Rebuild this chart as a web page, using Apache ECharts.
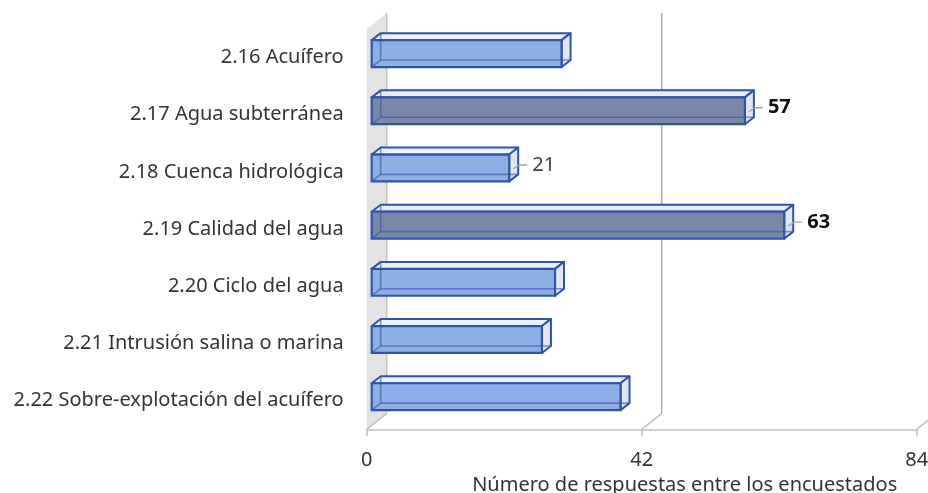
<!DOCTYPE html>
<html>
<head>
<meta charset="utf-8">
<script src="https://cdn.jsdelivr.net/npm/echarts@6/dist/echarts.min.js"></script>
<style>
  html, body { margin: 0; padding: 0; background: #fff; }
  #main { width: 928px; height: 493px; }
</style>
</head>
<body>
<div id="main"></div>
<script>
  // datos del gráfico
  const categories = [
    '2.16 Acuífero',
    '2.17 Agua subterránea',
    '2.18 Cuenca hidrológica',
    '2.19 Calidad del agua',
    '2.20 Ciclo del agua',
    '2.21 Intrusión salina o marina',
    '2.22 Sobre-explotación del acuífero'
  ];
  const values = [29, 57, 21, 63, 28, 26, 38];
  const highlighted = [0, 1, 0, 1, 0, 0, 0];   // barras oscuras
  const labelMode = [0, 2, 1, 2, 0, 0, 0];     // 0 sin etiqueta, 1 normal, 2 negrita
  const ticks = [0, 42, 84];
  const axisTitle = 'Número de respuestas entre los encuestados';

  const FONT = 'Noto Sans';
  const DEPTH = [20, -16];   // profundidad de las paredes
  const BAR_OFF = [5, -4];   // posición de la cara frontal de la barra
  const BAR_D = [9, -7];     // profundidad de la barra
  const EDGE = '#2F55A5';

  const barData = values.map((v, i) => [v, i, highlighted[i], labelMode[i]]);
  const wallData = ticks.map(t => [t]);

  function renderWalls(params, api) {
    const cs = params.coordSys;
    const t = api.value(0);
    const x = api.coord([t, 0])[0];
    const top = cs.y, bot = cs.y + cs.height;
    const children = [];
    if (t === 0) {
      children.push({
        type: 'polygon',
        shape: { points: [[x, top], [x + DEPTH[0], top + DEPTH[1]], [x + DEPTH[0], bot + DEPTH[1]], [x, bot]] },
        style: { fill: '#E3E3E3' }
      });
    }
    children.push({
      type: 'line',
      shape: { x1: x + DEPTH[0], y1: top + DEPTH[1], x2: x + DEPTH[0], y2: bot + DEPTH[1] },
      style: { stroke: t === 0 ? '#C4C4C4' : '#ABABAB', lineWidth: 1.5 }
    });
    children.push({
      type: 'line',
      shape: { x1: x, y1: bot, x2: x + DEPTH[0], y2: bot + DEPTH[1] },
      style: { stroke: '#BFBFBF', lineWidth: 1.5 }
    });
    return { type: 'group', children: children };
  }

  function renderBar(params, api) {
    const v = api.value(0), c = api.value(1);
    const dark = api.value(2) === 1;
    const mode = api.value(3);
    const p0 = api.coord([0, c]);
    const p1 = api.coord([v, c]);
    const band = api.size([0, 1])[1];
    const h = band * 0.47;
    const x0 = p0[0] + BAR_OFF[0], x1 = p1[0] + BAR_OFF[0];
    const cy = p0[1] + BAR_OFF[1];
    const top = cy - h / 2, bot = cy + h / 2;
    const dx = BAR_D[0], dy = BAR_D[1];
    const frontFill = dark ? '#7A88A7' : '#8EAEE6';
    const children = [
      {
        type: 'polygon',
        shape: { points: [[x0, top], [x1, top], [x1 + dx, top + dy], [x0 + dx, top + dy]] },
        style: { fill: dark ? '#E9ECF2' : '#ECF1F9', stroke: EDGE, lineWidth: 2, lineJoin: 'round' }
      },
      {
        type: 'polygon',
        shape: { points: [[x1, top], [x1 + dx, top + dy], [x1 + dx, bot + dy], [x1, bot]] },
        style: { fill: '#E2E6EE', stroke: EDGE, lineWidth: 2, lineJoin: 'round' }
      },
      {
        type: 'rect',
        shape: { x: x0, y: top, width: x1 - x0, height: h },
        style: { fill: frontFill, stroke: EDGE, lineWidth: 2.2 }
      },
      // aristas traseras vistas a través de la cara frontal
      {
        type: 'polyline',
        shape: { points: [[x0, bot], [x0 + dx, bot + dy], [x1 + dx, bot + dy]] },
        style: { stroke: 'rgba(47,85,165,0.6)', lineWidth: 1.6, fill: null }
      },
      {
        type: 'line',
        shape: { x1: x0 + dx, y1: top + dy, x2: x0 + dx, y2: bot + dy },
        style: { stroke: 'rgba(47,85,165,0.6)', lineWidth: 1.6 }
      }
    ];
    if (mode > 0) {
      const ly = cy - 3;
      children.push({
        type: 'polyline',
        shape: { points: [[x1 + 4, cy + 1], [x1 + 10, ly], [x1 + 18, ly]] },
        style: { stroke: '#A6A6A6', lineWidth: 1.4, fill: null }
      });
      children.push({
        type: 'text',
        style: {
          x: x1 + 23, y: ly,
          text: String(v),
          fill: mode === 2 ? '#111111' : '#404040',
          font: (mode === 2 ? 'bold ' : '') + '20px "' + FONT + '"',
          verticalAlign: 'middle', align: 'left'
        }
      });
    }
    return { type: 'group', children: children };
  }

  const chart = echarts.init(document.getElementById('main'));
  chart.setOption({
    animation: false,
    backgroundColor: '#fff',
    grid: { left: 366.7, right: 11.3, top: 29, bottom: 63.7, containLabel: false, outerBoundsMode: 'none' },
    xAxis: {
      type: 'value',
      min: 0, max: 84, interval: 42,
      name: axisTitle,
      nameLocation: 'middle',
      nameGap: 39,
      nameTextStyle: { fontFamily: FONT, fontSize: 20, color: '#333333', padding: [0, 0, 0, 86] },
      axisLine: { show: true, lineStyle: { color: '#BFBFBF', width: 1.5 } },
      axisTick: { show: true, length: 7, lineStyle: { color: '#BFBFBF', width: 1.5 } },
      axisLabel: { fontFamily: FONT, fontSize: 20, color: '#333333', margin: 21 },
      splitLine: { show: false }
    },
    yAxis: {
      type: 'category',
      inverse: true,
      data: categories,
      axisLine: { show: false },
      axisTick: { show: false },
      axisLabel: { fontFamily: FONT, fontSize: 20, color: '#333333', margin: 23, padding: [0, 0, 5, 0] }
    },
    series: [
      {
        type: 'custom',
        z: 1,
        silent: true,
        renderItem: renderWalls,
        encode: { x: 0 },
        data: wallData,
        clip: false
      },
      {
        type: 'custom',
        z: 2,
        renderItem: renderBar,
        encode: { x: 0, y: 1 },
        data: barData,
        clip: false
      }
    ]
  });
</script>
</body>
</html>
